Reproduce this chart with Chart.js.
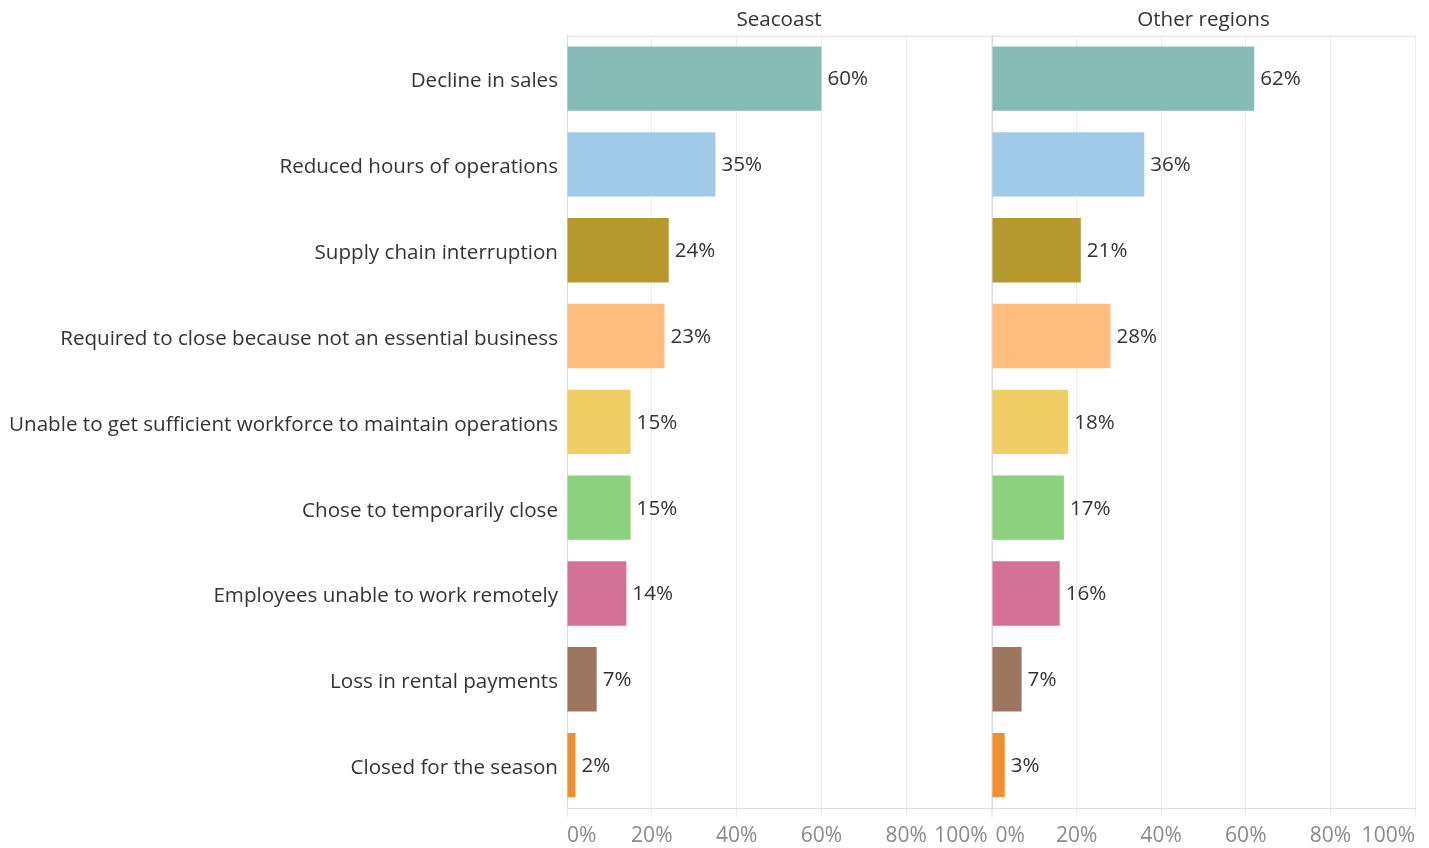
<!DOCTYPE html>
<html>
<head>
<meta charset="utf-8">
<script src="https://cdn.jsdelivr.net/npm/chart.js@4.4.1/dist/chart.umd.min.js"></script>
<style>
  html, body { margin: 0; padding: 0; background: #fff; }
  #wrap { position: relative; width: 1429px; height: 848px; }
  #wrap canvas { position: absolute; left: 0; top: 0; }
</style>
</head>
<body>
<div id="wrap">
  <canvas id="c1" width="1429" height="848"></canvas>
  <canvas id="c2" width="1429" height="848"></canvas>
</div>
<script>
const categories = [
  "Decline in sales",
  "Reduced hours of operations",
  "Supply chain interruption",
  "Required to close because not an essential business",
  "Unable to get sufficient workforce to maintain operations",
  "Chose to temporarily close",
  "Employees unable to work remotely",
  "Loss in rental payments",
  "Closed for the season"
];
const panelTitles = ["Seacoast", "Other regions"];
const seacoastValues = [60, 35, 24, 23, 15, 15, 14, 7, 2];
const otherValues = [62, 36, 21, 28, 18, 17, 16, 7, 3];
const tickValues = [0, 20, 40, 60, 80, 100];
const barColors = ["#86bcb6", "#a0cbe8", "#b6992d", "#ffbe7d", "#f1ce63", "#8cd17d", "#d37295", "#9d7660", "#f28e2b"];

const FONT = "'Open Sans', 'Noto Sans', sans-serif";
const TEXT = "#333333";
const GRID = "#ececec";
const AXIS = "#dcdcdc";
const FS = 20.6;

const valueLabels = {
  id: "valueLabels",
  afterDatasetsDraw(chart) {
    const ctx = chart.ctx;
    const meta = chart.getDatasetMeta(0);
    const data = chart.data.datasets[0].data;
    ctx.save();
    ctx.font = FS + "px " + FONT;
    ctx.fillStyle = TEXT;
    ctx.textAlign = "left";
    ctx.textBaseline = "middle";
    meta.data.forEach((bar, i) => {
      ctx.fillText(data[i] + "%", bar.x + 6, bar.y + 1);
    });
    ctx.restore();
  }
};

const frame = {
  id: "frame",
  beforeDatasetsDraw(chart) {
    const a = chart.chartArea;
    const ctx = chart.ctx;
    ctx.save();
    ctx.strokeStyle = AXIS;
    ctx.lineWidth = 1;
    ctx.beginPath();
    ctx.moveTo(a.left, a.top + 0.5);
    ctx.lineTo(a.right + 1, a.top + 0.5);
    ctx.stroke();
    ctx.restore();
  }
};

function makeChart(id, values, title, showCats, padLeft, padRight) {
  return new Chart(document.getElementById(id), {
    type: "bar",
    data: {
      labels: categories,
      datasets: [{
        data: values,
        backgroundColor: barColors,
        borderWidth: 0,
        barPercentage: 0.75,
        categoryPercentage: 1
      }]
    },
    plugins: [frame, valueLabels],
    options: {
      indexAxis: "y",
      responsive: false,
      animation: false,
      layout: { padding: { left: padLeft, right: padRight, top: 0, bottom: 0 } },
      plugins: {
        legend: { display: false },
        tooltip: { enabled: false },
        title: {
          display: true,
          text: title,
          fullSize: false,
          color: TEXT,
          font: { family: FONT, size: FS, weight: "normal" },
          padding: { top: 8, bottom: 3 }
        }
      },
      scales: {
        x: {
          min: 0,
          max: 100,
          afterBuildTicks(scale) { scale.ticks = tickValues.map(v => ({ value: v })); },
          afterFit(scale) { scale.height = 40; },
          grid: { color: GRID, tickLength: 9, tickColor: GRID, drawOnChartArea: true },
          border: { color: AXIS },
          ticks: {
            autoSkip: false,
            maxRotation: 0,
            align: "inner",
            padding: 6,
            color: "#8a8a8a",
            font: { family: FONT, size: 21 },
            callback: v => {
              const s = v + "%";
              if (showCats && v === 100) return s + "\u2009";
              if (!showCats && v === 0) return "\u2009" + s;
              return s;
            }
          }
        },
        y: {
          afterFit(scale) { scale.width = showCats ? 567 : 0; },
          grid: { display: false },
          border: { display: true, color: AXIS },
          ticks: {
            display: showCats,
            padding: 1,
            labelOffset: 3,
            color: TEXT,
            font: { family: FONT, size: FS }
          }
        }
      }
    }
  });
}

makeChart("c1", seacoastValues, panelTitles[0], true, 0, 1429 - 991);
makeChart("c2", otherValues, panelTitles[1], false, 992, 1429 - 1415);
</script>
</body>
</html>
